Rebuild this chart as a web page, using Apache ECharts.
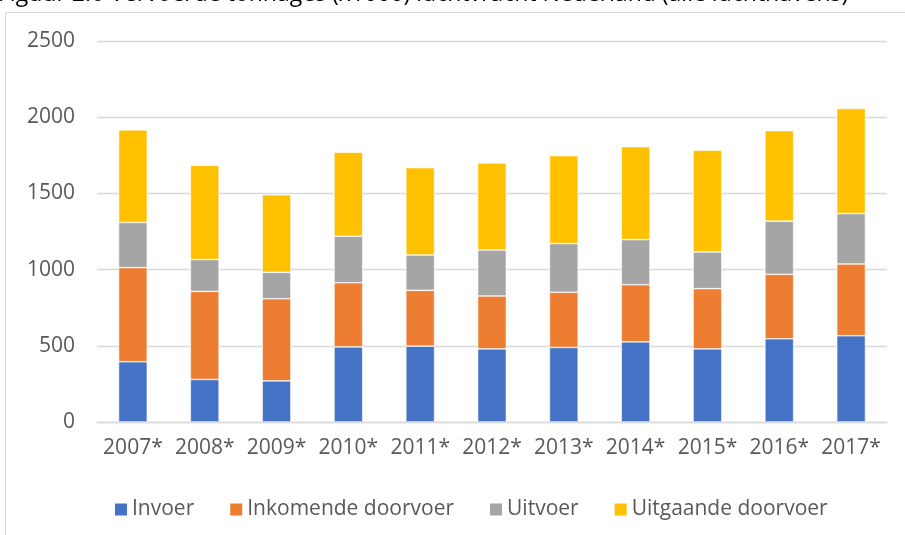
<!DOCTYPE html>
<html>
<head>
<meta charset="utf-8">
<script src="https://cdn.jsdelivr.net/npm/echarts@6/dist/echarts.min.js"></script>
<style>
  html, body { margin: 0; padding: 0; background: #fff; }
  #chart { width: 905px; height: 535px; }
</style>
</head>
<body>
<div id="chart"></div>
<script>
// tonnages x1000
const years = ['2007*', '2008*', '2009*', '2010*', '2011*', '2012*', '2013*', '2014*', '2015*', '2016*', '2017*'];
const invoer = [395, 279, 270, 493, 498, 480, 489, 526, 480, 546, 566];
const inkomendeDoorvoer = [618, 578, 539, 421, 366, 347, 362, 375, 395, 423, 471];
const uitvoer = [296, 209, 173, 305, 232, 302, 320, 296, 241, 349, 331];
const uitgaandeDoorvoer = [608, 618, 509, 551, 573, 571, 577, 610, 667, 594, 689];
const yTicks = [0, 500, 1000, 1500, 2000, 2500];

const fontFam = '"Open Sans", "Noto Sans", sans-serif';
const txtColor = '#595959';

function barSerie(name, data, color) {
    return {
        name: name,
        type: 'bar',
        stack: 'totaal',
        barWidth: '40%',
        data: data,
        itemStyle: { color: color, borderColor: '#ffffff', borderWidth: 0.6 }
    };
}

let chart = echarts.init(document.getElementById('chart'));
chart.setOption({
    animation: false,
    textStyle: { fontFamily: fontFam },
    graphic: [
        {
            type: 'rect',
            shape: { x: 5.5, y: 12.5, width: 1000, height: 600 },
            style: { fill: 'none', stroke: '#d9d9d9', lineWidth: 1 }
        },
        {
            type: 'text',
            left: -2,
            top: -17,
            style: {
                text: 'Figuur 2.6 Vervoerde tonnages (x1000) luchtvracht Nederland (alle luchthavens)',
                font: '23px ' + fontFam,
                fill: '#000000'
            }
        }
    ],
    grid: { left: 97, right: 18, top: 41, bottom: 113 },
    legend: {
        left: 108,
        top: 494,
        icon: 'rect',
        itemWidth: 14,
        itemHeight: 14,
        itemGap: 34,
        textStyle: { color: txtColor, fontSize: 21, fontFamily: fontFam, padding: [0, 0, 0, -1] },
        data: ['Invoer', 'Inkomende doorvoer', 'Uitvoer', 'Uitgaande doorvoer']
    },
    xAxis: {
        type: 'category',
        data: years,
        axisTick: { show: false },
        axisLine: { lineStyle: { color: '#d9d9d9', width: 1.3 } },
        axisLabel: { color: txtColor, fontSize: 21, margin: 16, interval: 0 }
    },
    yAxis: {
        type: 'value',
        min: yTicks[0],
        max: yTicks[yTicks.length - 1],
        interval: yTicks[1] - yTicks[0],
        axisLine: { show: false },
        axisTick: { show: false },
        splitLine: { lineStyle: { color: '#d9d9d9', width: 1.3 } },
        axisLabel: { color: txtColor, fontSize: 21, margin: 22, formatter: (v) => String(v) }
    },
    series: [
        barSerie('Invoer', invoer, '#4472C4'),
        barSerie('Inkomende doorvoer', inkomendeDoorvoer, '#ED7D31'),
        barSerie('Uitvoer', uitvoer, '#A5A5A5'),
        barSerie('Uitgaande doorvoer', uitgaandeDoorvoer, '#FFC000')
    ]
});
</script>
</body>
</html>
